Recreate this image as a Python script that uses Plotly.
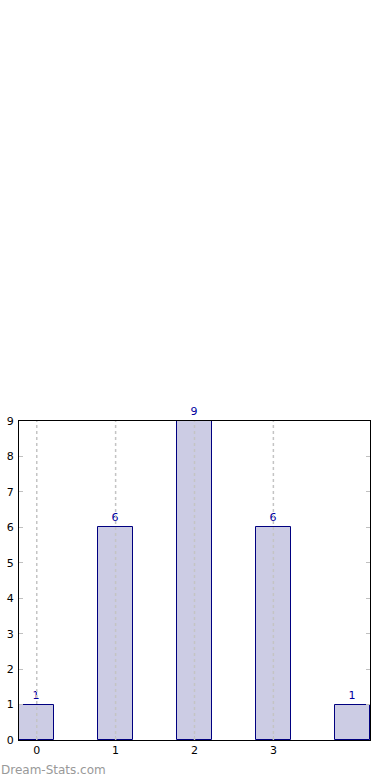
import plotly.graph_objects as go

categories = [0, 1, 2, 3, 4]
counts = [1, 6, 9, 6, 1]
x_tick_vals = [0, 1, 2, 3]
x_tick_text = ["0", "1", "2", "3"]
y_tick_vals = [0, 1, 2, 3, 4, 5, 6, 7, 8, 9]

fig = go.Figure()
fig.add_trace(go.Bar(
    x=categories, y=counts, width=0.45,
    marker=dict(color="#ccccE4", line=dict(color="#000080", width=1)),
    text=[str(c) for c in counts], textposition="outside",
    textfont=dict(color="#0000a0", size=11, family="DejaVu Sans"),
    cliponaxis=False, hoverinfo="skip",
))
for xv in x_tick_vals:
    fig.add_shape(type="line", xref="x", yref="paper", x0=xv, x1=xv, y0=0, y1=1,
                  line=dict(color="#c4c4c4", width=1.5, dash="dot"), layer="above")

fig.update_layout(
    width=390, height=780,
    margin=dict(l=19, r=20, t=421, b=40, autoexpand=False),
    plot_bgcolor="white", paper_bgcolor="white",
    showlegend=False, bargap=0,
    font=dict(family="DejaVu Sans", size=11, color="black"),
    xaxis=dict(range=[-0.225, 4.225], tickvals=x_tick_vals, ticktext=x_tick_text,
               showgrid=False, zeroline=False, showline=True, linecolor="black",
               linewidth=1, mirror=True, ticks="inside", ticklen=4, tickcolor="#c0c0c0",
               fixedrange=True, automargin=False),
    yaxis=dict(range=[0, 9], tickvals=y_tick_vals, showgrid=False, zeroline=False,
               showline=True, linecolor="black", linewidth=1, mirror="ticks",
               ticks="inside", ticklen=4, tickcolor="#c0c0c0", fixedrange=True,
               automargin=False, ticklabelstandoff=2),
    annotations=[dict(text="Dream-Stats.com", xref="paper", yref="paper",
                      x=-0.056, y=-0.094, xanchor="left", yanchor="middle",
                      showarrow=False, font=dict(size=12, color="#999999",
                                                 family="DejaVu Sans"))],
)
fig.write_html("out.html")
